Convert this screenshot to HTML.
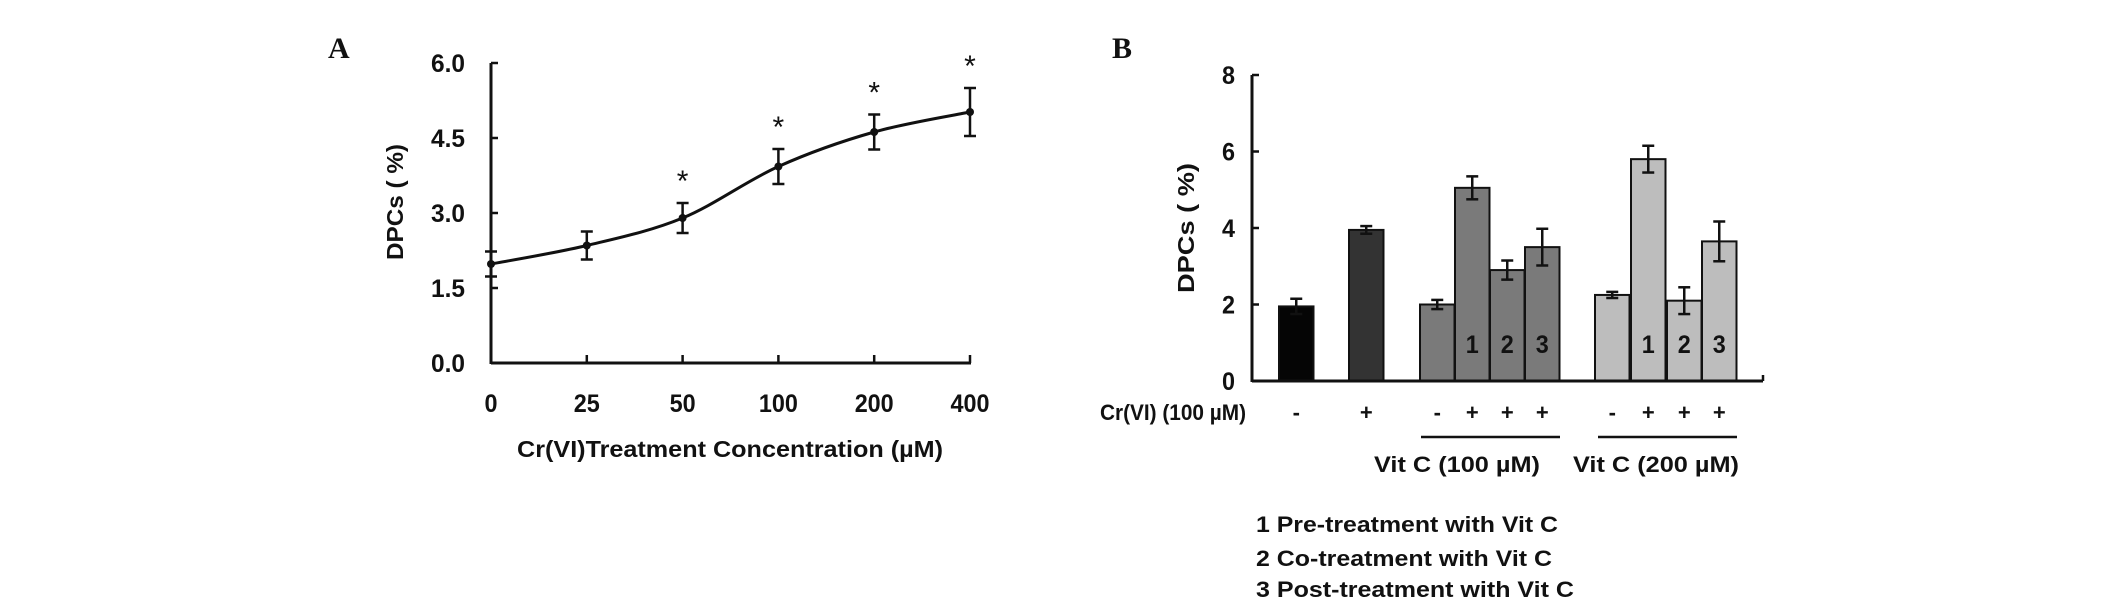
<!DOCTYPE html>
<html><head><meta charset="utf-8"><style>
html,body{margin:0;padding:0;background:#fff;width:2126px;height:603px;overflow:hidden}
svg{display:block}
text{font-family:"Liberation Sans",sans-serif;font-weight:bold;fill:#111}
</style></head><body>
<svg id="fig" width="2126" height="603" viewBox="0 0 2126 603"></svg>
<script>
// Panel A data
const concLabels = ["0","25","50","100","200","400"];
const dpcA = [1.98, 2.35, 2.9, 3.93, 4.62, 5.02];
const errA = [0.25, 0.28, 0.3, 0.35, 0.35, 0.48];
const starA = [false, false, true, true, true, true];
const yTicksA = [0, 1.5, 3.0, 4.5, 6.0];
// Panel B data
const dpcB = [1.95, 3.95, 2.0, 5.05, 2.9, 3.5, 2.25, 5.8, 2.1, 3.65];
const errB = [0.2, 0.1, 0.12, 0.3, 0.25, 0.48, 0.08, 0.35, 0.35, 0.52];
const crSign = ["-", "+", "-", "+", "+", "+", "-", "+", "+", "+"];
const barNum = ["", "", "", "1", "2", "3", "", "1", "2", "3"];
const barFill = ["#050505", "#333333", "#7a7a7a", "#7a7a7a", "#7a7a7a", "#7a7a7a", "#bdbdbd", "#bdbdbd", "#bdbdbd", "#bdbdbd"];
const yTicksB = [0, 2, 4, 6, 8];

const NS = "http://www.w3.org/2000/svg";
const svg = document.getElementById("fig");
function mk(tag, attrs, parent) {
  const e = document.createElementNS(NS, tag);
  for (const k in attrs) e.setAttribute(k, attrs[k]);
  (parent || svg).appendChild(e);
  return e;
}
function txt(s, attrs, parent) { const t = mk("text", attrs, parent); t.textContent = s; return t; }

// ---------- Panel A ----------
const gA = mk("g", {});


const ax0 = 491, axW = 479, ay0 = 363, ayPer = 50;
const xA = i => ax0 + i * (axW / (concLabels.length - 1));
const yA = v => ay0 - v * ayPer;

let t = txt("A", {x: 328, y: 58, "font-size": 30, style: "font-family:'Liberation Serif',serif"}, gA);
 

let ln = mk("line", {x1: ax0, y1: yA(6.0), x2: ax0, y2: ay0 + 1, stroke: "#111", "stroke-width": 3}, gA);
 
ln = mk("line", {x1: ax0, y1: ay0, x2: xA(5) + 1, y2: ay0, stroke: "#111", "stroke-width": 3}, gA);
 

yTicksA.forEach(v => {
  mk("line", {x1: ax0, y1: yA(v), x2: ax0 + 7, y2: yA(v), stroke: "#111", "stroke-width": 2.5}, gA);
  const l = txt(v.toFixed(1), {x: 465, y: yA(v) + 9, "font-size": 25, "text-anchor": "end", textLength: 34, lengthAdjust: "spacingAndGlyphs"}, gA);
   
});
concLabels.forEach((c, i) => {
  mk("line", {x1: xA(i), y1: ay0, x2: xA(i), y2: ay0 - 8, stroke: "#111", "stroke-width": 2.5}, gA);
  const l = txt(c, {x: xA(i), y: 412, "font-size": 25, "text-anchor": "middle", textLength: c.length * 13, lengthAdjust: "spacingAndGlyphs"}, gA);
   
});
t = txt("Cr(VI)Treatment Concentration (µM)", {x: 730, y: 457, "font-size": 23, "text-anchor": "middle", textLength: 426, lengthAdjust: "spacingAndGlyphs"}, gA);
 
t = txt("DPCs ( %)", {x: 0, y: 0, "font-size": 23, "text-anchor": "middle", transform: "translate(403,202) rotate(-90)", textLength: 116, lengthAdjust: "spacingAndGlyphs"}, gA);
 

// smooth curve (Catmull-Rom)
const pts = dpcA.map((v, i) => [xA(i), yA(v)]);
let d = `M${pts[0][0]},${pts[0][1]}`;
for (let i = 0; i < pts.length - 1; i++) {
  const p0 = pts[Math.max(0, i - 1)], p1 = pts[i], p2 = pts[i + 1], p3 = pts[Math.min(pts.length - 1, i + 2)];
  const c1 = [p1[0] + (p2[0] - p0[0]) / 6, p1[1] + (p2[1] - p0[1]) / 6];
  const c2 = [p2[0] - (p3[0] - p1[0]) / 6, p2[1] - (p3[1] - p1[1]) / 6];
  d += ` C${c1[0]},${c1[1]} ${c2[0]},${c2[1]} ${p2[0]},${p2[1]}`;
}
const curve = mk("path", {d: d, fill: "none", stroke: "#111", "stroke-width": 3}, gA);
 

dpcA.forEach((v, i) => {
  const x = xA(i), e = errA[i];
  const g = mk("g", {}, gA);
   
  mk("line", {x1: x, y1: yA(v + e), x2: x, y2: yA(v - e), stroke: "#111", "stroke-width": 2.5}, g);
  mk("line", {x1: x - 6, y1: yA(v + e), x2: x + 6, y2: yA(v + e), stroke: "#111", "stroke-width": 2.5}, g);
  mk("line", {x1: x - 6, y1: yA(v - e), x2: x + 6, y2: yA(v - e), stroke: "#111", "stroke-width": 2.5}, g);
  const p = mk("circle", {cx: x, cy: yA(v), r: 4, fill: "#111"}, g);
   
  if (starA[i]) {
    const s = txt("*", {x: x, y: yA(v + e) - 12, "font-size": 30, "text-anchor": "middle", style: "font-weight:normal"}, g);
     
  }
});

// ---------- Panel B ----------
const gB = mk("g", {});


const bx0 = 1252, by0 = 381, byPer = 38.25;
const yB = v => by0 - v * byPer;
const barLeft = [1279, 1349, 1420, 1455, 1490, 1525, 1595, 1631, 1667, 1702];
const barW = 34.5;

t = txt("B", {x: 1112, y: 58, "font-size": 30, style: "font-family:'Liberation Serif',serif"}, gB);
 

dpcB.forEach((v, i) => {
  const x = barLeft[i];
  const r = mk("rect", {x: x, y: yB(v), width: barW, height: v * byPer, fill: barFill[i], stroke: "#111", "stroke-width": 2}, gB);
   
  const cx = x + barW / 2, e = errB[i];
  const g = mk("g", {}, gB);
   
  mk("line", {x1: cx, y1: yB(v + e), x2: cx, y2: yB(v - e), stroke: "#111", "stroke-width": 2.5}, g);
  mk("line", {x1: cx - 6, y1: yB(v + e), x2: cx + 6, y2: yB(v + e), stroke: "#111", "stroke-width": 2.5}, g);
  mk("line", {x1: cx - 6, y1: yB(v - e), x2: cx + 6, y2: yB(v - e), stroke: "#111", "stroke-width": 2.5}, g);
  if (barNum[i]) {
    const n = txt(barNum[i], {x: cx, y: 353, "font-size": 25, "text-anchor": "middle", textLength: 13, lengthAdjust: "spacingAndGlyphs"}, gB);
     
  }
  const s = txt(crSign[i], {x: cx, y: 420, "font-size": 22, "text-anchor": "middle"}, gB);
   
});

ln = mk("line", {x1: bx0, y1: yB(8), x2: bx0, y2: by0 + 1, stroke: "#111", "stroke-width": 3}, gB);
 
ln = mk("line", {x1: bx0, y1: by0, x2: 1763, y2: by0, stroke: "#111", "stroke-width": 3}, gB);
 
mk("line", {x1: 1763, y1: by0, x2: 1763, y2: by0 - 6, stroke: "#111", "stroke-width": 2.5}, gB);
yTicksB.forEach(v => {
  mk("line", {x1: bx0, y1: yB(v), x2: bx0 + 7, y2: yB(v), stroke: "#111", "stroke-width": 2.5}, gB);
  const l = txt(String(v), {x: 1235, y: yB(v) + 9, "font-size": 25, "text-anchor": "end", textLength: 13, lengthAdjust: "spacingAndGlyphs"}, gB);
   
});
t = txt("DPCs ( %)", {x: 0, y: 0, "font-size": 23, "text-anchor": "middle", transform: "translate(1194,228) rotate(-90)", textLength: 130, lengthAdjust: "spacingAndGlyphs"}, gB);
 
t = txt("Cr(VI) (100 µM)", {x: 1246, y: 420, "font-size": 22, "text-anchor": "end", textLength: 146, lengthAdjust: "spacingAndGlyphs"}, gB);
 

ln = mk("line", {x1: 1421, y1: 437, x2: 1560, y2: 437, stroke: "#111", "stroke-width": 2.5}, gB);
 
ln = mk("line", {x1: 1598, y1: 437, x2: 1737, y2: 437, stroke: "#111", "stroke-width": 2.5}, gB);
 
t = txt("Vit C (100 µM)", {x: 1374, y: 472, "font-size": 22, textLength: 166, lengthAdjust: "spacingAndGlyphs"}, gB);
 
t = txt("Vit C (200 µM)", {x: 1573, y: 472, "font-size": 22, textLength: 166, lengthAdjust: "spacingAndGlyphs"}, gB);
 

const legendText = ["1 Pre-treatment with Vit C", "2 Co-treatment with Vit C", "3 Post-treatment with Vit C"];
const legendW = [302, 296, 318];
const legendY = [532, 566, 597];
legendText.forEach((s, i) => {
  const l = txt(s, {x: 1256, y: legendY[i], "font-size": 22, textLength: legendW[i], lengthAdjust: "spacingAndGlyphs"}, gB);
   
});
</script>
</body></html>
